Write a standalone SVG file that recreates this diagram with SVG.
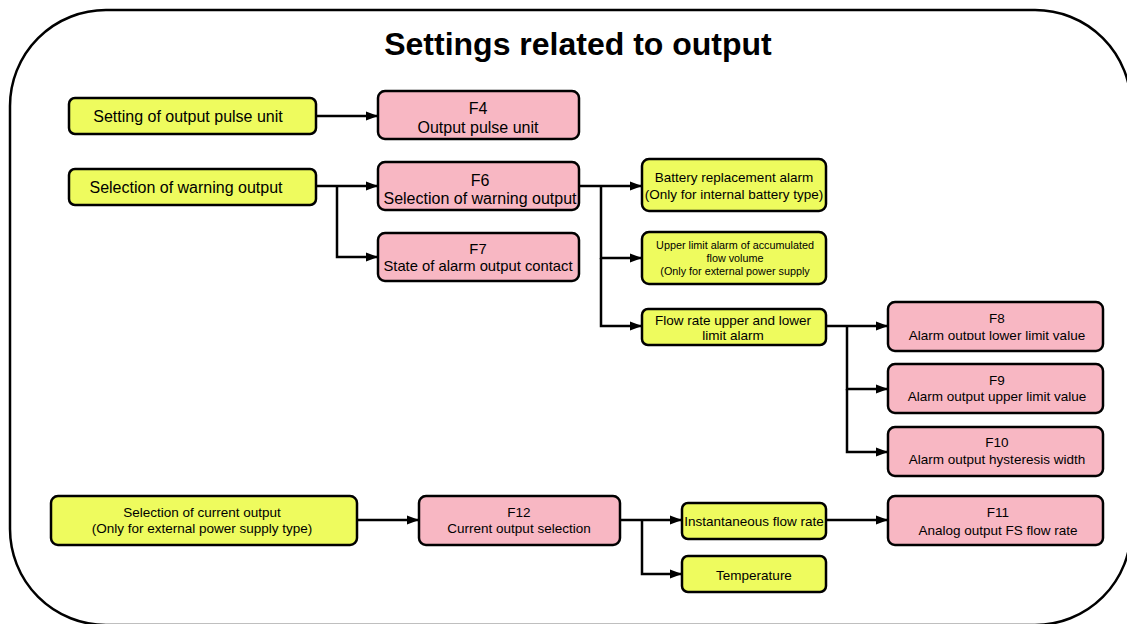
<svg xmlns="http://www.w3.org/2000/svg" width="1127" height="624" viewBox="0 0 1127 624">
<style>
.y{fill:#EEFB5E;stroke:#000;stroke-width:2.5}
.p{fill:#F8B7C3;stroke:#000;stroke-width:2.5}
text{font-family:"Liberation Sans",Arial,sans-serif;fill:#000;text-anchor:middle}
.t16{font-size:16px}
.t15{font-size:14.8px}
.t13{font-size:13.5px}
.t11{font-size:10.8px}
.c{fill:none;stroke:#000;stroke-width:2.5}
</style>
<defs>
<marker id="ah" markerWidth="14" markerHeight="12" refX="12" refY="6" orient="auto" markerUnits="userSpaceOnUse">
<path d="M0,1.5 L12,6 L0,10.5 Z" fill="#000"/>
</marker>
<clipPath id="clipF8"><rect x="888" y="302" width="216" height="38"/></clipPath>
</defs>
<rect width="1127" height="624" fill="#fff"/>
<rect x="10" y="10" width="1121" height="615" rx="96" ry="96" fill="none" stroke="#000" stroke-width="2.5"/>
<text x="578" y="55" style="font-size:32px;font-weight:bold">Settings related to output</text>

<g id="connectors">
<path class="c" d="M316,116 H378" marker-end="url(#ah)"/>
<path class="c" d="M316,186 H378" marker-end="url(#ah)"/>
<path class="c" d="M337,186 V257 H378" marker-end="url(#ah)"/>
<path class="c" d="M579,186 H642" marker-end="url(#ah)"/>
<path class="c" d="M601,186 V258 H642" marker-end="url(#ah)"/>
<path class="c" d="M601,258 V326 H642" marker-end="url(#ah)"/>
<path class="c" d="M826,326 H888" marker-end="url(#ah)"/>
<path class="c" d="M847,326 V389 H888" marker-end="url(#ah)"/>
<path class="c" d="M847,389 V452 H888" marker-end="url(#ah)"/>
<path class="c" d="M357,520 H419" marker-end="url(#ah)"/>
<path class="c" d="M620,520 H682" marker-end="url(#ah)"/>
<path class="c" d="M642,520 V574 H682" marker-end="url(#ah)"/>
<path class="c" d="M826,520 H888" marker-end="url(#ah)"/>
</g>

<g id="n-pulse-setting">
<rect class="y" x="69" y="98" width="247" height="36" rx="6"/>
<text class="t16" x="188" y="122">Setting of output pulse unit</text>
</g>
<g id="n-F4">
<rect class="p" x="378" y="91" width="201" height="48" rx="7"/>
<text class="t16" x="478" y="114">F4</text>
<text class="t16" x="478" y="133">Output pulse unit</text>
</g>
<g id="n-warning-selection">
<rect class="y" x="69" y="169" width="247" height="36" rx="6"/>
<text class="t16" x="186" y="193">Selection of warning output</text>
</g>
<g id="n-F6">
<rect class="p" x="378" y="162" width="201" height="48" rx="7"/>
<text class="t16" x="480" y="186">F6</text>
<text class="t16" x="480" y="204">Selection of warning output</text>
</g>
<g id="n-F7">
<rect class="p" x="378" y="233" width="201" height="48" rx="7"/>
<text class="t15" x="478" y="254">F7</text>
<text class="t15" x="478" y="271">State of alarm output contact</text>
</g>
<g id="n-battery">
<rect class="y" x="642" y="159" width="184" height="52" rx="7"/>
<text class="t13" x="734" y="182">Battery replacement alarm</text>
<text class="t13" x="734" y="199">(Only for internal battery type)</text>
</g>
<g id="n-upper-accum">
<rect class="y" x="642" y="232" width="184" height="52" rx="7"/>
<text class="t11" x="735" y="249">Upper limit alarm of accumulated</text>
<text class="t11" x="735" y="262">flow volume</text>
<text class="t11" x="735" y="275">(Only for external power supply</text>
</g>
<g id="n-flowrate-alarm">
<rect class="y" x="642" y="309" width="184" height="36" rx="6"/>
<text class="t13" x="733" y="325">Flow rate upper and lower</text>
<text class="t13" x="733" y="340">limit alarm</text>
</g>
<g id="n-F8">
<rect class="p" x="888" y="302" width="215" height="49" rx="7"/>
<text class="t13" x="997" y="323">F8</text>
<text class="t13" x="997" y="340" clip-path="url(#clipF8)">Alarm output lower limit value</text>
</g>
<g id="n-F9">
<rect class="p" x="888" y="364" width="215" height="49" rx="7"/>
<text class="t13" x="997" y="385">F9</text>
<text class="t13" x="997" y="401">Alarm output upper limit value</text>
</g>
<g id="n-F10">
<rect class="p" x="888" y="427" width="215" height="49" rx="7"/>
<text class="t13" x="997" y="447">F10</text>
<text class="t13" x="997" y="464">Alarm output hysteresis width</text>
</g>
<g id="n-current-selection">
<rect class="y" x="51" y="496" width="306" height="49" rx="7"/>
<text class="t13" x="202" y="517">Selection of current output</text>
<text class="t13" x="202" y="533">(Only for external power supply type)</text>
</g>
<g id="n-F12">
<rect class="p" x="419" y="496" width="201" height="49" rx="7"/>
<text class="t13" x="519" y="517">F12</text>
<text class="t13" x="519" y="533">Current output selection</text>
</g>
<g id="n-instantaneous">
<rect class="y" x="682" y="503" width="144" height="36" rx="6"/>
<text class="t13" x="754" y="526">Instantaneous flow rate</text>
</g>
<g id="n-temperature">
<rect class="y" x="682" y="556" width="144" height="36" rx="6"/>
<text class="t13" x="754" y="580">Temperature</text>
</g>
<g id="n-F11">
<rect class="p" x="888" y="496" width="215" height="49" rx="7"/>
<text class="t13" x="998" y="517">F11</text>
<text class="t13" x="998" y="535">Analog output FS flow rate</text>
</g>
</svg>
